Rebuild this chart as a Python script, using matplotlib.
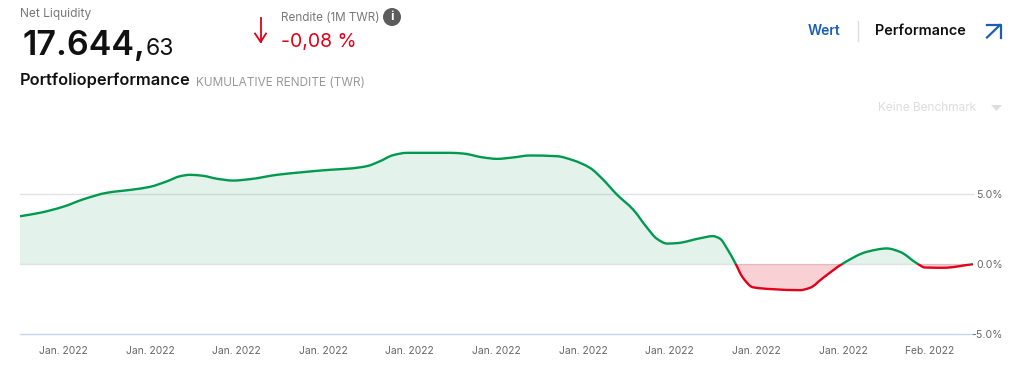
import numpy as np
import matplotlib.pyplot as plt
from matplotlib.path import Path
from matplotlib.patches import PathPatch, Rectangle, Circle, Polygon

plt.rcParams['font.family'] = ['Inter', 'DejaVu Sans']

# days into the month shown, and cumulative return in %
days = [0.0, 0.63, 1.36, 1.98, 2.74, 3.56, 4.09, 4.63, 5.04, 5.35, 5.76, 6.2, 6.71, 7.24,
        8.09, 8.81, 9.76, 10.39, 10.92, 11.33, 11.74, 12.18, 12.69, 13.54, 13.95, 14.58,
        15.02, 15.52, 16.05, 16.9, 17.41, 17.94, 18.35, 18.79, 19.3, 19.74, 20.05, 20.37,
        20.68, 21.41, 21.81, 22.04, 22.26, 22.51, 22.76, 23.07, 23.7, 24.55, 24.87, 25.28,
        25.91, 26.66, 27.29, 27.7, 28.24, 28.49, 29.06, 30.0]
returns = [3.41, 3.66, 4.09, 4.61, 5.09, 5.32, 5.51, 5.91, 6.27, 6.37, 6.3, 6.09, 5.96, 6.06,
           6.37, 6.54, 6.73, 6.82, 6.99, 7.34, 7.77, 7.94, 7.94, 7.94, 7.89, 7.61,
           7.51, 7.61, 7.75, 7.7, 7.41, 6.87, 6.04, 4.96, 3.89, 2.59, 1.8, 1.46,
           1.49, 1.84, 1.99, 1.8, 1.09, 0.09, -0.99, -1.66, -1.8, -1.87, -1.7, -0.99,
           0.04, 0.87, 1.11, 0.87, 0.04, -0.25, -0.27, -0.01]
tick_labels = ['Jan. 2022'] * 10 + ['Feb. 2022']
y_ticks = [5.0, 0.0, -5.0]

W, H = 1029, 386
GREEN = '#009a4e'
RED = '#e2001a'
BLUE = '#1a5fb4'


def smooth_path(xs, ys):
    # monotone cubic through the read points, as bezier segments
    xs = np.array(xs)
    ys = np.array(ys)
    h = np.diff(xs)
    d = np.diff(ys) / h
    m = np.zeros(len(xs))
    m[0], m[-1] = d[0], d[-1]
    for i in range(1, len(xs) - 1):
        if d[i - 1] * d[i] > 0:
            w1 = 2 * h[i] + h[i - 1]
            w2 = h[i] + 2 * h[i - 1]
            m[i] = (w1 + w2) / (w1 / d[i - 1] + w2 / d[i])
    verts = [(xs[0], ys[0])]
    codes = [Path.MOVETO]
    for i in range(len(xs) - 1):
        verts += [(xs[i] + h[i] / 3, ys[i] + m[i] * h[i] / 3),
                  (xs[i + 1] - h[i] / 3, ys[i + 1] - m[i + 1] * h[i] / 3),
                  (xs[i + 1], ys[i + 1])]
        codes += [Path.CURVE4] * 3
    return verts, codes


def txt(x, y, s, **kw):
    kw.setdefault('va', 'center')
    fig.text(x / W, 1 - y / H, s, **kw)


fig = plt.figure(figsize=(W / 100, H / 100), dpi=100)
ax = fig.add_axes([20 / W, 1 - 334 / H, 953 / W, 234 / H])
ax.set_xlim(0, 30)
ax.set_ylim(-5, 234 / 14 - 5)
for s in ax.spines.values():
    s.set_visible(False)

for y, c in zip(y_ticks, ['#e2e2e2', '#e2e2e2', '#c5d6f5']):
    ax.axhline(y, color=c, lw=1, zorder=1, clip_on=False)

verts, codes = smooth_path(days, returns)
line = Path(verts, codes)
area = Path(verts + [(days[-1], 0), (days[0], 0), (days[0], 0)],
            codes + [Path.LINETO, Path.LINETO, Path.CLOSEPOLY])

top = Rectangle((0, 0), 30, 20, transform=ax.transData)
bottom = Rectangle((0, -20), 30, 20, transform=ax.transData)
for clip, c, a in [(top, GREEN, 0.11), (bottom, RED, 0.18)]:
    f = PathPatch(area, facecolor=c, edgecolor='none', alpha=a, zorder=2)
    ax.add_patch(f)
    f.set_clip_path(clip)
    l = PathPatch(line, facecolor='none', edgecolor=c, lw=1.7, zorder=3)
    ax.add_patch(l)
    l.set_clip_path(clip)

ax.set_xticks([(k + 0.5) * 30 / 11 for k in range(11)], tick_labels)
ax.set_yticks(y_ticks, ['%.1f%%' % v for v in y_ticks])
ax.yaxis.tick_right()
ax.tick_params(axis='x', length=0, pad=9, labelsize=7.4, labelcolor='#666666')
ax.tick_params(axis='y', length=0, pad=21.6, labelsize=7.6, labelcolor='#666666')
for t in ax.get_yticklabels():
    t.set_ha('right')
    t.set_va('center_baseline')

# header
txt(20, 14, 'Net Liquidity', color='#777777', fontsize=8.6)
txt(22, 55, '17.644,', color='#111111', fontsize=24.5, va='baseline', fontweight='semibold')
txt(146, 55, '63', color='#111111', fontsize=16.5, va='baseline')
txt(281, 18, 'Rendite (1M TWR)', color='#777777', fontsize=8.4)
txt(281, 42, '-0,08 %', color=RED, fontsize=14)
txt(20, 80, 'Portfolioperformance', color='#111111', fontsize=11.8, fontweight='semibold')
txt(196, 82.5, 'KUMULATIVE RENDITE (TWR)', color='#999999', fontsize=8.5)
txt(808, 31, 'Wert', color=BLUE, fontsize=10, fontweight='semibold')
txt(875, 31, 'Performance', color='#111111', fontsize=10.4, fontweight='semibold')
txt(878, 108, 'Keine Benchmark', color='#dddddd', fontsize=8.5)

over = fig.add_axes([0, 0, 1, 1], zorder=5)
over.set_xlim(0, W)
over.set_ylim(H, 0)
over.axis('off')
over.patch.set_alpha(0)
over.add_patch(Circle((392, 17), 9, color='#5c5c5c', lw=0))
over.text(392, 17, 'i', color='white', fontsize=9, fontweight='bold', ha='center', va='center')
over.plot([858, 858], [21, 41], color='#dddddd', lw=1)
over.add_patch(Polygon([(991, 105), (1002, 105), (996.5, 111)], color='#dddddd', lw=0))
over.plot([260.7, 260.7], [18, 42], color=RED, lw=1.3)
over.plot([255, 260.7, 266], [33.5, 42, 33.5], color=RED, lw=1.3)
over.plot([987, 1000], [37.5, 25], color=BLUE, lw=1.6)
over.plot([987, 1000.5, 1000.5], [25, 25, 38], color=BLUE, lw=1.6)

fig.savefig('out.png', dpi=100)
